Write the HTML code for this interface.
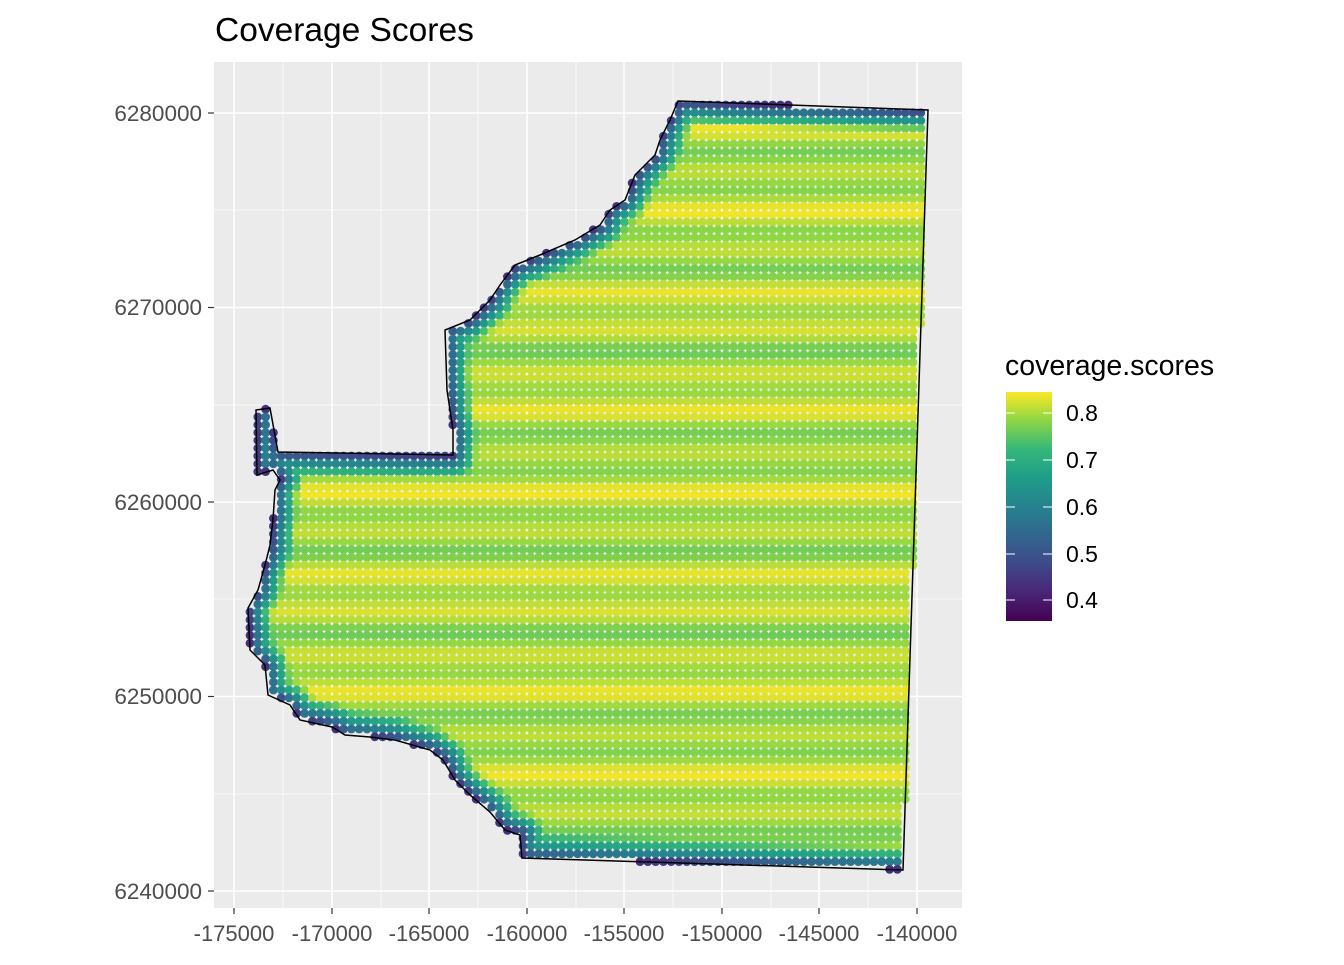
<!DOCTYPE html>
<html><head><meta charset="utf-8"><style>
body{margin:0;background:#fff;width:1344px;height:960px;overflow:hidden;font-family:"Liberation Sans",sans-serif}
</style></head><body>
<svg id="s" width="1344" height="960" xmlns="http://www.w3.org/2000/svg" font-family="Liberation Sans, sans-serif">
<defs><linearGradient id="vg" x1="0" y1="1" x2="0" y2="0">
<stop offset="0" stop-color="#440154"/><stop offset="0.13" stop-color="#482777"/><stop offset="0.25" stop-color="#3e4a89"/><stop offset="0.38" stop-color="#31688e"/><stop offset="0.5" stop-color="#26828e"/><stop offset="0.63" stop-color="#1f9e89"/><stop offset="0.75" stop-color="#35b779"/><stop offset="0.88" stop-color="#8fd744"/><stop offset="1" stop-color="#fde725"/></linearGradient></defs>
<text x="215" y="41" font-size="33.5" fill="#000">Coverage Scores</text>
<rect x="214" y="62" width="748" height="846" fill="#ebebeb"/>
<g stroke="#fff" stroke-width="0.7">
<line x1="214" x2="962" y1="210" y2="210"/><line x1="214" x2="962" y1="405" y2="405"/><line x1="214" x2="962" y1="599" y2="599"/><line x1="214" x2="962" y1="794" y2="794"/>
<line y1="62" y2="908" x1="283" x2="283"/><line y1="62" y2="908" x1="381" x2="381"/><line y1="62" y2="908" x1="478" x2="478"/><line y1="62" y2="908" x1="576" x2="576"/><line y1="62" y2="908" x1="673" x2="673"/><line y1="62" y2="908" x1="771" x2="771"/><line y1="62" y2="908" x1="868" x2="868"/>
</g>
<g stroke="#fff" stroke-width="1.5">
<line x1="214" x2="962" y1="113" y2="113"/><line x1="214" x2="962" y1="307.5" y2="307.5"/><line x1="214" x2="962" y1="502" y2="502"/><line x1="214" x2="962" y1="696.5" y2="696.5"/><line x1="214" x2="962" y1="891" y2="891"/>
<line y1="62" y2="908" x1="234" x2="234"/><line y1="62" y2="908" x1="332" x2="332"/><line y1="62" y2="908" x1="429" x2="429"/><line y1="62" y2="908" x1="527" x2="527"/><line y1="62" y2="908" x1="624" x2="624"/><line y1="62" y2="908" x1="722" x2="722"/><line y1="62" y2="908" x1="819" x2="819"/><line y1="62" y2="908" x1="917" x2="917"/>
</g>
<g id="dots"></g>
<polygon id="poly" fill="none" stroke="#000" stroke-width="1.5" points=""/>
<g fill="#4d4d4d" font-size="22.5" text-anchor="end">
<text x="202" y="121">6280000</text><text x="202" y="315">6270000</text><text x="202" y="510">6260000</text><text x="202" y="704">6250000</text><text x="202" y="899">6240000</text></g>
<g stroke="#333" stroke-width="1.2">
<line x1="208" x2="214" y1="113" y2="113"/><line x1="208" x2="214" y1="307.5" y2="307.5"/><line x1="208" x2="214" y1="502" y2="502"/><line x1="208" x2="214" y1="696.5" y2="696.5"/><line x1="208" x2="214" y1="891" y2="891"/>
<line y1="908" y2="914" x1="234" x2="234"/><line y1="908" y2="914" x1="332" x2="332"/><line y1="908" y2="914" x1="429" x2="429"/><line y1="908" y2="914" x1="527" x2="527"/><line y1="908" y2="914" x1="624" x2="624"/><line y1="908" y2="914" x1="722" x2="722"/><line y1="908" y2="914" x1="819" x2="819"/><line y1="908" y2="914" x1="917" x2="917"/>
</g>
<g fill="#4d4d4d" font-size="22" text-anchor="middle">
<text x="234" y="941">-175000</text><text x="332" y="941">-170000</text><text x="429" y="941">-165000</text><text x="527" y="941">-160000</text><text x="624" y="941">-155000</text><text x="722" y="941">-150000</text><text x="819" y="941">-145000</text><text x="917" y="941">-140000</text></g>
<text x="1005" y="375" font-size="28.5" fill="#000">coverage.scores</text>
<rect x="1006" y="392" width="46" height="229" fill="url(#vg)"/>
<g stroke="#fff" stroke-width="1"><line x1="1006" x2="1015" y1="413" y2="413"/><line x1="1043" x2="1052" y1="413" y2="413"/><line x1="1006" x2="1015" y1="460" y2="460"/><line x1="1043" x2="1052" y1="460" y2="460"/><line x1="1006" x2="1015" y1="507" y2="507"/><line x1="1043" x2="1052" y1="507" y2="507"/><line x1="1006" x2="1015" y1="554" y2="554"/><line x1="1043" x2="1052" y1="554" y2="554"/><line x1="1006" x2="1015" y1="600" y2="600"/><line x1="1043" x2="1052" y1="600" y2="600"/></g>
<g font-size="23" fill="#000"><text x="1066" y="421">0.8</text><text x="1066" y="468">0.7</text><text x="1066" y="515">0.6</text><text x="1066" y="562">0.5</text><text x="1066" y="608">0.4</text></g>
</svg>
<script>
var P=[[678,101],[928,110],[903,870],[522,858],[520,835],[505,830],[490,812],[470,795],[455,780],[443,760],[430,750],[395,740],[370,737],[345,735],[332,727],[300,720],[290,705],[268,695],[265,665],[250,650],[248,608],[258,590],[265,565],[270,545],[273,520],[275,490],[280,480],[273,470],[257,475],[256,410],[270,408],[278,452],[453,455],[453,430],[447,390],[445,330],[470,320],[490,300],[500,285],[515,265],[540,255],[575,240],[600,225],[610,210],[625,200],[635,175],[655,155],[660,140],[670,120]];
document.getElementById('poly').setAttribute('points',P.map(function(p){return p.join(',')}).join(' '));
function inside(x,y){var c=false;for(var i=0,j=P.length-1;i<P.length;j=i++){var a=P[i],b=P[j];if((a[1]>y)!=(b[1]>y)&&x<(b[0]-a[0])*(y-a[1])/(b[1]-a[1])+a[0])c=!c;}return c;}
function dseg(x,y,a,b){var dx=b[0]-a[0],dy=b[1]-a[1],t=((x-a[0])*dx+(y-a[1])*dy)/(dx*dx+dy*dy);t=Math.max(0,Math.min(1,t));var px=a[0]+t*dx-x,py=a[1]+t*dy-y;return Math.sqrt(px*px+py*py);}
var V=[[68,1,84],[72,39,119],[62,74,137],[49,104,142],[38,130,142],[31,158,137],[53,183,121],[143,215,68],[253,231,37]];
function vir(t){t=Math.max(0,Math.min(1,t))*8;var i=Math.min(7,Math.floor(t)),f=t-i;var a=V[i],b=V[i+1];return 'rgb('+[0,1,2].map(function(k){return Math.round(a[k]+(b[k]-a[k])*f)}).join(',')+')';}
var s='';
for(var y=105;y<872;y+=7.8){for(var x=250;x<930;x+=7.8){if(!inside(x,y))continue;var d=1e9;for(var i=0;i<P.length;i++){var j=(i+1)%P.length;if(i==1)continue;d=Math.min(d,dseg(x,y,P[i],P[j]));}
var stripe=0.80+0.025*Math.sin(y/6.4)+0.015*Math.sin(y/15);var e=Math.min(1,(d+1)/26);var v=0.38+(stripe-0.38)*Math.pow(e,0.7);
var t=(v-0.355)/0.49;s+='<circle cx="'+x.toFixed(1)+'" cy="'+y.toFixed(1)+'" r="4.4" fill="'+vir(t)+'"/>';}}
document.getElementById('dots').innerHTML=s;
</script>
</body></html>
